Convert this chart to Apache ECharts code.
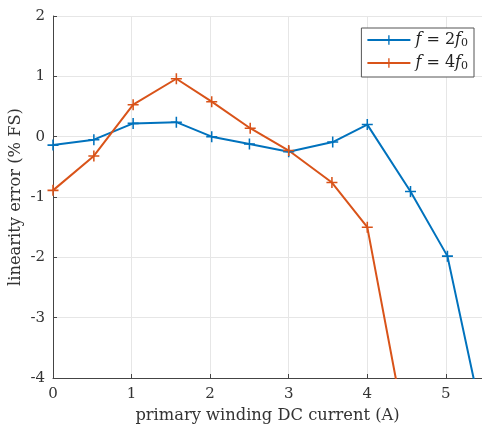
<!DOCTYPE html>
<html>
<head>
<meta charset="utf-8">
<script src="https://cdn.jsdelivr.net/npm/echarts@6/dist/echarts.min.js"></script>
<style>html,body{margin:0;padding:0;background:#fff;}#c{width:482px;height:426px;}</style>
</head>
<body>
<div id="c"></div>
<script>
var xTicks = [0, 1, 2, 3, 4, 5];
var yTicks = [-4, -3, -2, -1, 0, 1, 2];
var seriesNames = ['f2', 'f4'];
var current2f = [0, 0.52, 1.02, 1.57, 2.02, 2.5, 3.0, 3.56, 4.0, 4.55, 5.02, 5.55];
var error2f = [-0.14, -0.05, 0.22, 0.24, 0.0, -0.12, -0.25, -0.09, 0.20, -0.91, -1.98, -5.2];
var current4f = [0, 0.52, 1.02, 1.57, 2.02, 2.51, 3.0, 3.55, 4.0, 4.55];
var error4f = [-0.89, -0.32, 0.53, 0.96, 0.58, 0.14, -0.23, -0.76, -1.50, -5.3];

function pairs(xs, ys) { return xs.map(function (x, i) { return [x, ys[i]]; }); }

var plus = 'path://M4.3,0H5.7V10H4.3Z M0,4.3H10V5.7H0Z';
var font = '"DejaVu Serif", "Liberation Serif", serif';
var chart = echarts.init(document.getElementById('c'), null, {renderer: 'canvas'});
chart.setOption({
  backgroundColor: '#fff',
  animation: false,
  grid: {left: 53, right: 0, top: 16, bottom: 48, containLabel: false, outerBoundsMode: 'none'},
  legend: {
    right: 8, top: 28, orient: 'vertical',
    backgroundColor: '#fff', borderColor: '#555', borderWidth: 1,
    padding: [4, 6, 5, 5], itemGap: 6, itemWidth: 43, itemHeight: 12,
    data: seriesNames,
    formatter: function (n) {
      return n === 'f2' ? '{i|f} = 2{i|f}{s|0}' : '{i|f} = 4{i|f}{s|0}';
    },
    textStyle: {
      fontFamily: font, fontSize: 16, color: '#222',
      rich: {
        i: {fontFamily: font, fontStyle: 'italic', fontSize: 16, color: '#222'},
        s: {fontFamily: font, fontSize: 11, color: '#222', verticalAlign: 'bottom', padding: [7, 0, 0, 0]}
      }
    }
  },
  xAxis: {
    type: 'value', min: xTicks[0], max: 5.46, interval: 1,
    name: 'primary winding DC current (A)', nameLocation: 'middle', nameGap: 30,
    nameMoveOverlap: false,
    nameTextStyle: {fontFamily: font, fontSize: 16.3, color: '#333'},
    axisLine: {show: true, onZero: false, lineStyle: {color: '#444', width: 1}},
    axisTick: {show: true, inside: true, length: 4, lineStyle: {color: '#444'}},
    axisLabel: {fontFamily: font, fontSize: 15, color: '#333', margin: 9, showMaxLabel: false},
    splitLine: {show: true, lineStyle: {color: '#e6e6e6', width: 1}}
  },
  yAxis: {
    type: 'value', min: yTicks[0], max: yTicks[yTicks.length - 1], interval: 1,
    name: 'linearity error (% FS)', nameLocation: 'middle', nameGap: 29,
    nameMoveOverlap: false,
    nameTextStyle: {fontFamily: font, fontSize: 16.3, color: '#333'},
    axisLine: {show: true, onZero: false, lineStyle: {color: '#444', width: 1}},
    axisTick: {show: true, inside: true, length: 4, lineStyle: {color: '#444'}},
    axisLabel: {fontFamily: font, fontSize: 15, color: '#333', margin: 8,
      formatter: function (v) { return String(v); }},
    splitLine: {show: true, lineStyle: {color: '#e6e6e6', width: 1}}
  },
  series: [
    {name: 'f2', type: 'line', data: pairs(current2f, error2f), symbol: plus, symbolSize: 11,
      showAllSymbol: true, clip: true,
      lineStyle: {color: '#0072BD', width: 2}, itemStyle: {color: '#0072BD'}},
    {name: 'f4', type: 'line', data: pairs(current4f, error4f), symbol: plus, symbolSize: 11,
      showAllSymbol: true, clip: true,
      lineStyle: {color: '#D95319', width: 2}, itemStyle: {color: '#D95319'}}
  ]
});
</script>
</body>
</html>
